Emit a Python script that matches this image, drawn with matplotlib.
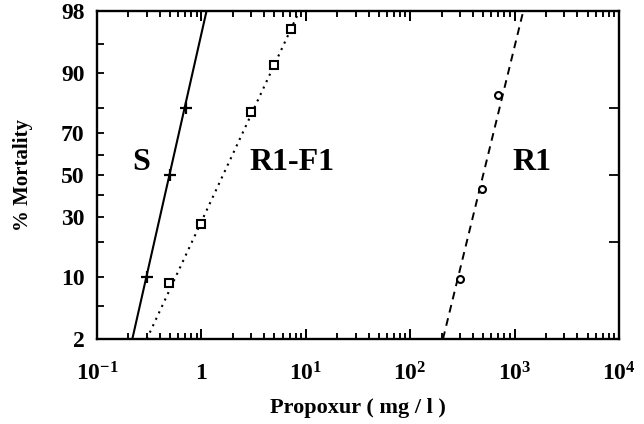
import numpy as np
import matplotlib
matplotlib.use("Agg")
import matplotlib.pyplot as plt
from matplotlib import ticker, markers
from statistics import NormalDist

# =========================
# DATA
# =========================
# observed points: dose (mg/l), % mortality
s_dose = [0.30, 0.50, 0.71]
s_mort = [10, 50, 80]

r1f1_dose = [0.49, 1.0, 2.97, 4.92, 7.16]
r1f1_mort = [8.9, 27, 78.4, 91.6, 96.6]

r1_dose = [300, 491, 698]
r1_mort = [9.6, 43, 84.2]

# fitted probit lines: ends at 2 % and 98 %
s_fit_dose = [0.218, 1.12]
r1f1_fit_dose = [0.30, 8.67]
r1_fit_dose = [206, 1211]
fit_mort = [2, 98]

y_major = [2, 10, 30, 50, 70, 90, 98]
y_minor = [5, 20, 40, 60, 80, 95]
y_right = [20, 50, 80]
x_major = [0.1, 1, 10, 100, 1000, 10000]
x_labels = ["$10^{-1}$", "$1$", "$10^{1}$", "$10^{2}$", "$10^{3}$", "$10^{4}$"]
x_minor = [m * d for d in x_major[:-1] for m in range(2, 10)]

SERIF = "Liberation Serif"

# =========================
# PROBIT SCALE
# =========================
_nd = NormalDist()


def probit(p):
    p = np.clip(np.asarray(p, dtype=float) / 100.0, 1e-9, 1 - 1e-9)
    out = np.array([_nd.inv_cdf(v) for v in p.ravel()], dtype=float)
    return out.reshape(p.shape)


def inv_probit(z):
    z = np.asarray(z, dtype=float)
    out = np.array([_nd.cdf(v) for v in z.ravel()], dtype=float) * 100.0
    return out.reshape(z.shape)


plt.rcParams["mathtext.fontset"] = "custom"
plt.rcParams["mathtext.rm"] = "Liberation Serif:bold"
plt.rcParams["mathtext.it"] = "Liberation Serif:bold"
plt.rcParams["mathtext.bf"] = "Liberation Serif:bold"

fig = plt.figure(figsize=(6.44, 4.24), dpi=100)
ax = fig.add_axes([0.1506, 0.2005, 0.8106, 0.7735])
ax.set_xscale("log")
ax.set_yscale("function", functions=(probit, inv_probit))
ax.set_xlim(0.1, 10000)
ax.set_ylim(2, 98)

# ticks
ax.xaxis.set_major_locator(ticker.FixedLocator(x_major))
ax.xaxis.set_minor_locator(ticker.FixedLocator(x_minor))
ax.xaxis.set_major_formatter(ticker.FixedFormatter(x_labels))
ax.xaxis.set_minor_formatter(ticker.NullFormatter())
ax.yaxis.set_major_locator(ticker.FixedLocator(y_major))
ax.yaxis.set_minor_locator(ticker.FixedLocator(y_minor))
ax.yaxis.set_major_formatter(ticker.FixedFormatter([str(v) for v in y_major]))
ax.yaxis.set_minor_formatter(ticker.NullFormatter())
ax.tick_params(axis="x", which="major", direction="in", length=7, width=1.3,
               top=True, bottom=True, labelsize=17, pad=17)
ax.tick_params(axis="x", which="minor", direction="in", length=4, width=1.1,
               top=True, bottom=True)
ax.tick_params(axis="y", which="both", direction="in", length=5, width=1.3,
               left=True, right=False)
ax.tick_params(axis="y", which="major", labelsize=17, pad=9)
for lbl in ax.get_xticklabels() + ax.get_yticklabels():
    lbl.set_fontfamily(SERIF)
    lbl.set_fontweight("bold")

# x tick marks on bottom and top edges (drawn explicitly as well)
xt = ax.get_xaxis_transform()
for locs, size, wid in [(x_major, 7, 1.3), (x_minor, 4, 1.1)]:
    ax.plot(locs, [0] * len(locs), ls="none", marker=markers.TICKUP, ms=size,
            mew=wid, color="black", transform=xt, clip_on=False)
    ax.plot(locs, [1] * len(locs), ls="none", marker=markers.TICKDOWN, ms=size,
            mew=wid, color="black", transform=xt, clip_on=False)

# right-hand ticks only at 20, 50, 80
ax.plot([1] * len(y_right), y_right, ls="none", marker=markers.TICKLEFT,
        ms=7, mew=1.3, color="black", transform=ax.get_yaxis_transform(),
        clip_on=False)

# fitted lines
ax.plot(s_fit_dose, fit_mort, color="black", lw=1.5, ls="-")
ax.plot(r1f1_fit_dose, fit_mort, color="black", lw=1.5, ls=(0, (1, 2.4)))
ax.plot(r1_fit_dose, fit_mort, color="black", lw=1.4, ls=(0, (4, 3)))

# observed points
ax.plot(s_dose, s_mort, ls="none", marker="+", ms=8, mew=1.6, color="black")
ax.plot(r1f1_dose, r1f1_mort, ls="none", marker="s", ms=6, mew=1.5,
        mfc="white", mec="black")
ax.plot(r1_dose, r1_mort, ls="none", marker="o", ms=5, mew=1.5,
        mfc="white", mec="black")

# strain labels
for xs, name in [(0.268, "S"), (7.33, "R1-F1"), (1468, "R1")]:
    ax.text(xs, 56, name, fontsize=23, fontweight="bold", fontfamily=SERIF,
            ha="center", va="center")

for sp in ax.spines.values():
    sp.set_linewidth(1.7)

ax.set_xlabel("Propoxur ( mg / l )", fontsize=16, fontweight="bold",
              fontfamily=SERIF, labelpad=9)
ax.set_ylabel("% Mortality", fontsize=15, fontweight="bold",
              fontfamily=SERIF, labelpad=20)

fig.canvas.draw()
fig.savefig("out.png", dpi=100)
